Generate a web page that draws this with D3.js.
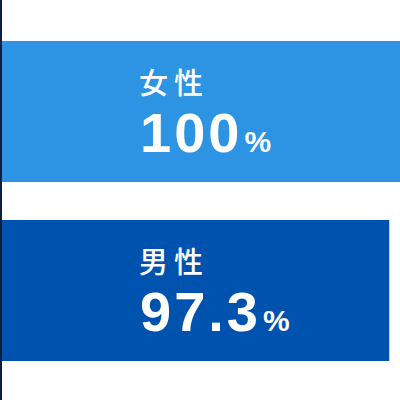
<!DOCTYPE html>
<html><head><meta charset="utf-8">
<script src="https://cdn.jsdelivr.net/npm/d3@7"></script>
<style>html,body{margin:0;padding:0;background:#fff;}svg{display:block;}</style>
</head><body>
<svg id="c" width="400" height="400"></svg>
<script>
const categories = ["女性", "男性"];
const values = [100, 97.3];
const valueLabels = ["100", "97.3"];
const colors = ["#2d93e3", "#0052af"];

const W = 400, H = 400;
const svg = d3.select("#c");
const x = d3.scaleLinear().domain([0, 100]).range([2, 400]);
const y = d3.scaleBand().domain(categories).range([22, 380]).paddingInner(0.212).paddingOuter(0.106);

svg.selectAll("rect.bar").data(categories).enter().append("rect")
  .attr("class", "bar")
  .attr("x", x(0))
  .attr("y", d => y(d))
  .attr("width", (d, i) => x(values[i]) - x(0))
  .attr("height", y.bandwidth())
  .attr("fill", (d, i) => colors[i]);

svg.append("line").attr("x1", 1).attr("x2", 1).attr("y1", 0).attr("y2", H)
  .attr("stroke", "#0b1f45").attr("stroke-width", 2);

const g = svg.selectAll("g.lab").data(categories).enter().append("g")
  .attr("transform", d => `translate(139,${y(d)})`);
g.append("text").attr("y", 53)
  .attr("fill", "#fff")
  .style("font-family", "'Noto Sans CJK JP', 'Noto Sans CJK SC', sans-serif")
  .style("font-weight", "500").style("font-size", "29px")
  .style("letter-spacing", "6px")
  .text(d => d);
const t = g.append("text").attr("y", 111)
  .attr("fill", "#fff")
  .style("font-family", "'Liberation Sans', Arial, sans-serif")
  .style("font-weight", "bold");
t.append("tspan").attr("dx", 1).style("font-size", "56px").style("letter-spacing", "3px")
  .text((d, i) => valueLabels[i]);
t.append("tspan").attr("dx", 2).style("font-size", "30px").text("%");
</script>
</body></html>
